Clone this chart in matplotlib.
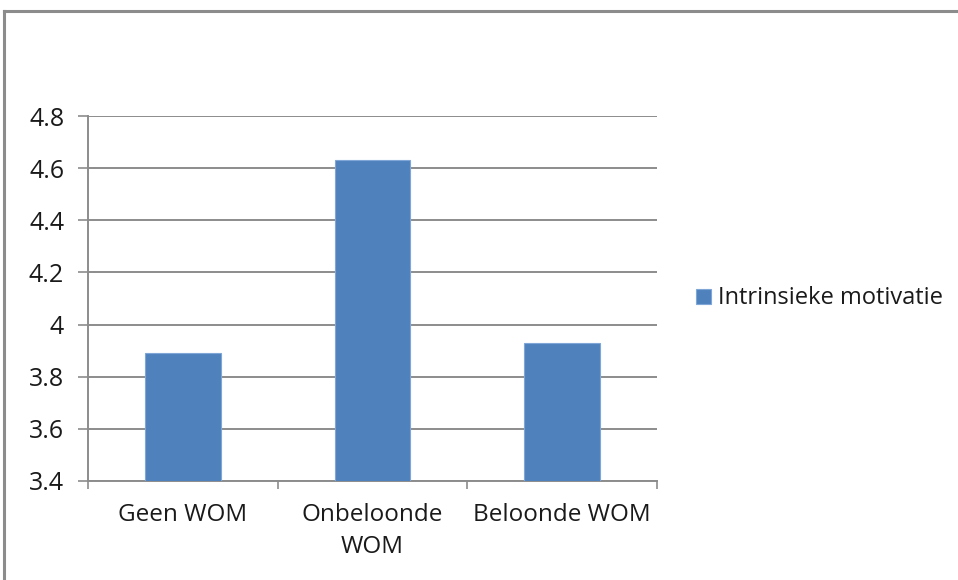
import matplotlib
matplotlib.use("Agg")
import matplotlib.pyplot as plt
from matplotlib.lines import Line2D

# Mean intrinsic motivation per WOM condition
categories = ['Geen WOM', 'Onbeloonde\nWOM', 'Beloonde WOM']
motivatie = [3.89, 4.63, 3.93]
y_ticks = [3.4, 3.6, 3.8, 4.0, 4.2, 4.4, 4.6, 4.8]
y_labels = ['3.4', '3.6', '3.8', '4', '4.2', '4.4', '4.6', '4.8']

plt.rcParams['font.family'] = ['Open Sans', 'DejaVu Sans']
grid_color = '#8c8c8c'
bar_color = '#4f81bd'
text_color = '#1a1a1a'

fig = plt.figure(figsize=(9.58, 5.8), dpi=100)
ax = fig.add_axes([0.0919, 0.1707, 0.5939, 0.6293])

positions = range(len(categories))
ax.bar(positions, motivatie, width=0.40, color=bar_color,
       edgecolor='#7fa6d6', linewidth=0.8, zorder=3, label='Intrinsieke motivatie')

ax.set_ylim(3.4, 4.8)
ax.set_xlim(-0.5, 2.5)
ax.set_yticks(y_ticks)
ax.set_yticklabels(y_labels)
ax.set_xticks(list(positions))
ax.set_xticklabels(categories, linespacing=1.42)
ax.set_xticks([-0.5, 0.5, 1.5, 2.5], minor=True)

ax.yaxis.grid(True, color=grid_color, linewidth=1.4, zorder=0)
ax.tick_params(axis='y', length=7.2, width=1.2, color=grid_color, pad=10,
               labelsize=18, labelcolor=text_color)
ax.tick_params(axis='x', which='major', length=0, pad=16,
               labelsize=17.5, labelcolor=text_color)
ax.tick_params(axis='x', which='minor', length=6, width=1.2, color=grid_color)

for side in ['top', 'right']:
    ax.spines[side].set_visible(False)
for side in ['left', 'bottom']:
    ax.spines[side].set_color(grid_color)
    ax.spines[side].set_linewidth(1.4)

ax.legend(loc='center left', bbox_to_anchor=(1.0, 0.5), frameon=False,
          fontsize=17, handlelength=0.6, handleheight=0.6, handletextpad=0.3,
          borderaxespad=1.27, labelcolor=text_color)

# outer chart border (top and left edges visible)
fig.add_artist(Line2D([4 / 958, 1.0], [1 - 11 / 580, 1 - 11 / 580],
                      color='#8c8c8c', linewidth=2.2))
fig.add_artist(Line2D([4 / 958, 4 / 958], [0.0, 1 - 11 / 580],
                      color='#8c8c8c', linewidth=2.2))

fig.savefig('out.png', dpi=100, facecolor='white')
